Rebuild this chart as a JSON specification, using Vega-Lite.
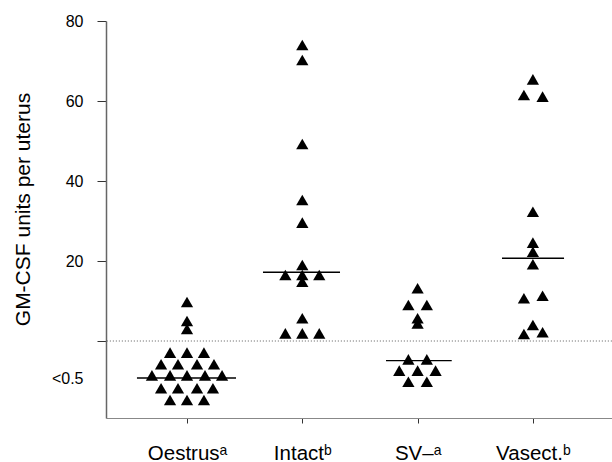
{
  "$schema": "https://vega.github.io/schema/vega-lite/v6.json",
  "width": 506,
  "height": 397,
  "autosize": {"type": "none"},
  "padding": {"left": 106, "top": 21, "right": 0, "bottom": 44},
  "background": "white",
  "config": {"view": {"stroke": null}, "font": "Liberation Sans"},
  "datasets": {
    "points": [
      {"group": "Oestrus", "pos": 1, "value": 9.75},
      {"group": "Oestrus", "pos": 1, "value": 5},
      {"group": "Oestrus", "pos": 1, "value": 3},
      {"group": "Oestrus", "pos": 0.853, "value": -2.9},
      {"group": "Oestrus", "pos": 1, "value": -2.9},
      {"group": "Oestrus", "pos": 1.147, "value": -2.9},
      {"group": "Oestrus", "pos": 0.775, "value": -5.8},
      {"group": "Oestrus", "pos": 0.922, "value": -5.8},
      {"group": "Oestrus", "pos": 1.087, "value": -5.8},
      {"group": "Oestrus", "pos": 1.234, "value": -5.8},
      {"group": "Oestrus", "pos": 0.696, "value": -8.6},
      {"group": "Oestrus", "pos": 0.853, "value": -8.6},
      {"group": "Oestrus", "pos": 1, "value": -8.6},
      {"group": "Oestrus", "pos": 1.156, "value": -8.6},
      {"group": "Oestrus", "pos": 1.304, "value": -8.6},
      {"group": "Oestrus", "pos": 0.775, "value": -11.8},
      {"group": "Oestrus", "pos": 0.922, "value": -11.8},
      {"group": "Oestrus", "pos": 1.087, "value": -11.8},
      {"group": "Oestrus", "pos": 1.225, "value": -11.8},
      {"group": "Oestrus", "pos": 0.853, "value": -14.75},
      {"group": "Oestrus", "pos": 1, "value": -14.75},
      {"group": "Oestrus", "pos": 1.147, "value": -14.75},
      {"group": "Intact", "pos": 2, "value": 74},
      {"group": "Intact", "pos": 2, "value": 70.25},
      {"group": "Intact", "pos": 2, "value": 49.25},
      {"group": "Intact", "pos": 2, "value": 35.25},
      {"group": "Intact", "pos": 2, "value": 29.6},
      {"group": "Intact", "pos": 2, "value": 19},
      {"group": "Intact", "pos": 1.853, "value": 16.5},
      {"group": "Intact", "pos": 2, "value": 16.5},
      {"group": "Intact", "pos": 2.147, "value": 16.5},
      {"group": "Intact", "pos": 2, "value": 14.8},
      {"group": "Intact", "pos": 2, "value": 5.7},
      {"group": "Intact", "pos": 1.853, "value": 1.9},
      {"group": "Intact", "pos": 2, "value": 1.9},
      {"group": "Intact", "pos": 2.147, "value": 1.9},
      {"group": "SV", "pos": 3, "value": 13.2},
      {"group": "SV", "pos": 2.92, "value": 9},
      {"group": "SV", "pos": 3.08, "value": 9},
      {"group": "SV", "pos": 3, "value": 5.7},
      {"group": "SV", "pos": 3, "value": 4.4},
      {"group": "SV", "pos": 2.92, "value": -4.6},
      {"group": "SV", "pos": 3.08, "value": -4.6},
      {"group": "SV", "pos": 2.841, "value": -7.4},
      {"group": "SV", "pos": 3, "value": -7.4},
      {"group": "SV", "pos": 3.156, "value": -7.4},
      {"group": "SV", "pos": 2.92, "value": -10.2},
      {"group": "SV", "pos": 3.08, "value": -10.2},
      {"group": "Vasect", "pos": 4, "value": 65.4},
      {"group": "Vasect", "pos": 3.922, "value": 61.5},
      {"group": "Vasect", "pos": 4.084, "value": 61.1},
      {"group": "Vasect", "pos": 4, "value": 32.3},
      {"group": "Vasect", "pos": 4, "value": 24.6},
      {"group": "Vasect", "pos": 4, "value": 22.3},
      {"group": "Vasect", "pos": 4, "value": 19.2},
      {"group": "Vasect", "pos": 3.922, "value": 10.7},
      {"group": "Vasect", "pos": 4.084, "value": 11.3},
      {"group": "Vasect", "pos": 4, "value": 4},
      {"group": "Vasect", "pos": 3.922, "value": 1.75},
      {"group": "Vasect", "pos": 4.084, "value": 2.2}
    ],
    "medians": [
      {"group": "Oestrus", "pos": 0.566, "pos2": 1.425, "value": -9.25},
      {"group": "Intact", "pos": 1.659, "pos2": 2.327, "value": 17.2},
      {"group": "SV", "pos": 2.726, "pos2": 3.296, "value": -4.9},
      {"group": "Vasect", "pos": 3.732, "pos2": 4.27, "value": 20.7}
    ],
    "reference": [{"value": 0}]
  },
  "layer": [
    {
      "data": {"name": "reference"},
      "mark": {"type": "rule", "color": "#777777", "strokeWidth": 1, "strokeDash": [1.2, 1.8]},
      "encoding": {
        "y": {"field": "value", "type": "quantitative", "scale": {"domain": [-19.25, 80], "nice": false, "zero": false}}
      }
    },
    {
      "data": {"name": "medians"},
      "mark": {"type": "rule", "color": "black", "strokeWidth": 1.4},
      "encoding": {
        "x": {"field": "pos", "type": "quantitative", "scale": {"domain": [0.2975, 4.686], "nice": false, "zero": false}},
        "x2": {"field": "pos2"},
        "y": {"field": "value", "type": "quantitative", "scale": {"domain": [-19.25, 80], "nice": false, "zero": false}}
      }
    },
    {
      "data": {"name": "points"},
      "mark": {"type": "point", "shape": "triangle-up", "filled": true, "size": 150, "color": "black", "opacity": 1},
      "encoding": {
        "x": {
          "field": "pos", "type": "quantitative",
          "scale": {"domain": [0.2975, 4.686], "nice": false, "zero": false},
          "axis": {
            "title": null, "grid": false, "values": [1, 2, 3, 4],
            "labelExpr": "datum.value == 1 ? 'Oestrusᵃ' : datum.value == 2 ? 'Intactᵇ' : datum.value == 3 ? 'SV–ᵃ' : 'Vasect.ᵇ'",
            "tickSize": 5, "tickColor": "#333333", "domainColor": "#888888", "domainWidth": 1.2,
            "labelFontSize": 20.5, "labelColor": "black", "labelFont": "Liberation Sans",
            "labelBaseline": "alphabetic", "labelPadding": 36
          }
        },
        "y": {
          "field": "value", "type": "quantitative",
          "scale": {"domain": [-19.25, 80], "nice": false, "zero": false},
          "axis": {
            "title": "GM-CSF units per uterus", "titleFontSize": 21, "titleFontWeight": "normal",
            "titleFont": "Liberation Sans", "titleColor": "black", "titleX": -83, "titleY": 188,
            "titleAngle": -90, "titleBaseline": "middle", "titleAlign": "center",
            "grid": false, "values": [-9.25, 0, 20, 40, 60, 80],
            "labelExpr": "datum.value == 0 ? '' : datum.value < -1 ? '<0.5' : datum.label",
            "tickOpacity": {"condition": {"test": "datum.value < -1", "value": 0}, "value": 1},
            "tickSize": 9, "tickColor": "#333333", "domainColor": "#666666", "domainWidth": 1.5,
            "labelFontSize": 16, "labelColor": "black", "labelFont": "Liberation Sans", "labelPadding": 14
          }
        }
      }
    }
  ]
}
